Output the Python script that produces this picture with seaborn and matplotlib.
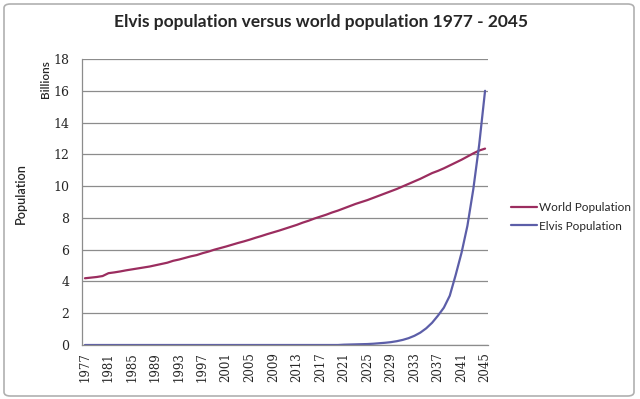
import pandas as pd
import matplotlib
matplotlib.use('Agg')
import matplotlib.pyplot as plt
import seaborn as sns
from matplotlib.patches import FancyBboxPatch

years = list(range(1977, 2046))

world_pop = [4.20, 4.24, 4.28, 4.34, 4.52, 4.57, 4.63, 4.70, 4.76, 4.82,
             4.88, 4.94, 5.02, 5.10, 5.18, 5.30, 5.38, 5.48, 5.58, 5.66,
             5.78, 5.88, 6.00, 6.10, 6.20, 6.31, 6.42, 6.52, 6.63, 6.75,
             6.86, 6.98, 7.09, 7.20, 7.32, 7.44, 7.56, 7.70, 7.82, 7.96,
             8.08, 8.20, 8.34, 8.46, 8.60, 8.74, 8.88, 9.00, 9.12, 9.26,
             9.40, 9.54, 9.68, 9.82, 9.98, 10.14, 10.30, 10.46, 10.64, 10.82,
             10.96, 11.12, 11.30, 11.48, 11.66, 11.86, 12.06, 12.24, 12.36]

elvis_pop = [0.00, 0.00, 0.00, 0.00, 0.00, 0.00, 0.00, 0.00, 0.00, 0.00,
             0.00, 0.00, 0.00, 0.00, 0.00, 0.00, 0.00, 0.00, 0.00, 0.00,
             0.00, 0.00, 0.00, 0.00, 0.00, 0.00, 0.00, 0.00, 0.00, 0.00,
             0.00, 0.00, 0.00, 0.00, 0.00, 0.00, 0.00, 0.00, 0.00, 0.00,
             0.00, 0.00, 0.00, 0.00, 0.02, 0.03, 0.04, 0.05, 0.06, 0.08,
             0.11, 0.14, 0.18, 0.24, 0.32, 0.43, 0.58, 0.78, 1.05, 1.40,
             1.85, 2.35, 3.10, 4.40, 5.80, 7.50, 9.80, 12.60, 16.00]

series_names = ['World Population', 'Elvis Population']
year_ticks = list(range(1977, 2046, 4))
y_ticks = list(range(0, 19, 2))

df = pd.DataFrame({
    'Year': years * 2,
    'Population': world_pop + elvis_pop,
    'Series': [series_names[0]] * len(years) + [series_names[1]] * len(years),
})

sns.set_style('white')
palette = {'World Population': '#9b2d5f', 'Elvis Population': '#5c5ea8'}

fig = plt.figure(figsize=(6.4, 3.99), dpi=100)
ax = fig.add_axes([82 / 640, 1 - 345 / 399, 406 / 640, 286 / 399])

sns.lineplot(data=df, x='Year', y='Population', hue='Series', palette=palette,
             linewidth=1.6, ax=ax, legend=False)

ax.set_xlim(1976.5, 2045.5)
ax.set_ylim(0, 18)
ax.set_yticks(y_ticks)
ax.set_xticks(year_ticks)
ax.set_xticklabels([str(y) for y in year_ticks], rotation=90, fontsize=8.5,
                   family='DejaVu Serif')
ax.set_yticklabels([str(v) for v in y_ticks], fontsize=9, family='DejaVu Serif')
ax.grid(axis='y', color='#8c8c8c', linewidth=0.9)
ax.set_axisbelow(True)
for s in ['top', 'right']:
    ax.spines[s].set_visible(False)
for s in ['left', 'bottom']:
    ax.spines[s].set_color('#8c8c8c')
    ax.spines[s].set_linewidth(0.9)
ax.tick_params(axis='y', length=3, color='#8c8c8c', pad=6)
ax.tick_params(axis='x', length=0, pad=5)
ax.set_xlabel('')
ax.set_ylabel('Population', fontsize=9, family='Lato', fontweight='semibold')
ax.yaxis.set_label_coords(-0.135, 0.53)

fig.text(45 / 640, 1 - 79 / 399, 'Billions', rotation=90, fontsize=8.5,
         family='Lato', fontweight='semibold', ha='center', va='center')

fig.text(321 / 640, 1 - 22 / 399, 'Elvis population versus world population 1977 - 2045',
         fontsize=12.5, family='Lato', fontweight='bold', ha='center', va='center')

handles = [plt.Line2D([], [], color=palette[n], linewidth=1.6) for n in series_names]
fig.legend(handles, series_names, loc='center left',
           bbox_to_anchor=(500 / 640, 1 - 217 / 399), frameon=False,
           prop={'family': 'Lato', 'size': 8.5}, handlelength=2.2,
           handletextpad=0.2, labelspacing=0.6)

border = FancyBboxPatch((4 / 640, 3 / 399), 630 / 640, 392 / 399,
                        boxstyle='round,pad=0,rounding_size=0.01',
                        transform=fig.transFigure, fill=False,
                        edgecolor='#b0b0b0', linewidth=1.2)
fig.patches.append(border)

fig.savefig('out.png', dpi=100)
